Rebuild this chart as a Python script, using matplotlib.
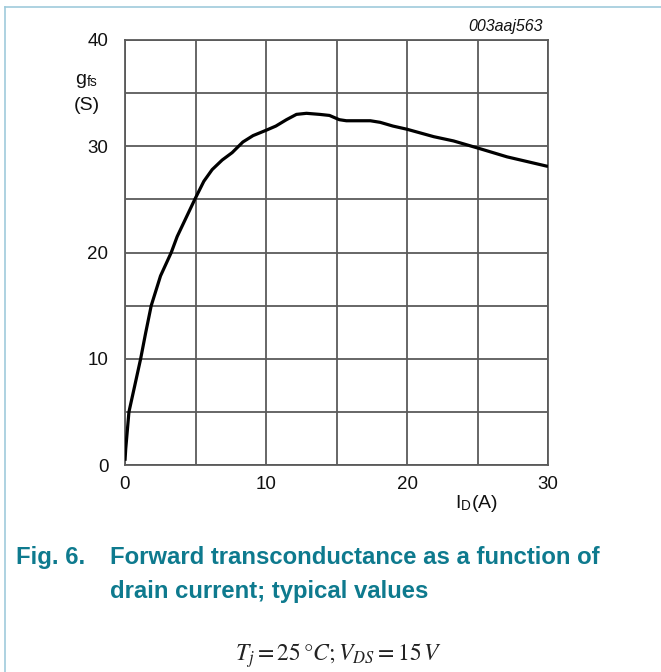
import matplotlib
matplotlib.use('Agg')
import matplotlib.pyplot as plt
from matplotlib.lines import Line2D

plt.rcParams['font.family'] = ['Liberation Sans', 'DejaVu Sans']
plt.rcParams['mathtext.fontset'] = 'stix'

# drain current I_D (A) and forward transconductance g_fs (S)
i_d = [0.0, 0.05, 0.28, 0.68, 1.11, 1.46, 1.86, 2.52, 3.28, 3.7, 4.95, 5.59, 6.18,
       6.89, 7.6, 8.36, 9.08, 10.0, 10.7, 11.45, 12.16, 12.87, 13.8, 14.5, 15.2,
       15.7, 17.4, 18.1, 19.0, 20.0, 21.9, 23.3, 25.1, 27.1, 30.0]
g_fs = [0.4, 1.5, 5.0, 7.4, 10.0, 12.4, 15.0, 17.8, 20.0, 21.5, 25.0, 26.7, 27.8,
        28.7, 29.4, 30.4, 31.0, 31.5, 31.9, 32.5, 33.0, 33.1, 33.0, 32.9, 32.5,
        32.4, 32.4, 32.25, 31.9, 31.6, 30.9, 30.5, 29.8, 29.0, 28.1]

x_ticks = [0, 5, 10, 15, 20, 25, 30]
x_labels = ['0', '', '10', '', '20', '', '30']
y_ticks = [0, 5, 10, 15, 20, 25, 30, 35, 40]
y_labels = ['0', '', '10', '', '20', '', '30', '', '40']

W, H = 661, 672
fig = plt.figure(figsize=(W / 100, H / 100), dpi=100)
ax = fig.add_axes([125 / W, 1 - 465 / H, 423 / W, 425 / H])

ax.plot(i_d, g_fs, color='black', lw=2.3, solid_capstyle='butt', zorder=3)

ax.set_xlim(0, 30)
ax.set_ylim(0, 40)
ax.set_xticks(x_ticks)
ax.set_xticklabels(x_labels)
ax.set_yticks(y_ticks)
ax.set_yticklabels(y_labels)
ax.tick_params(length=0, labelsize=13.5, colors='#111111')
ax.tick_params(axis='x', pad=8)
ax.tick_params(axis='y', pad=12)
ax.grid(True, color='#5a5a5a', lw=1.3)
for s in ax.spines.values():
    s.set_color('#5a5a5a')
    s.set_linewidth(1.3)

grey = '#111111'
fig.text(87 / W, 1 - 81 / H, r'g$_{\mathregular{fs}}$', ha='center', va='center', fontsize=14, color=grey)
fig.text(87 / W, 1 - 105 / H, '(S)', ha='center', va='center', fontsize=14, color=grey)
fig.text(477 / W, 1 - 503 / H, r'I$_{\mathregular{D}}$(A)', ha='center', va='center', fontsize=14, color=grey)
fig.text(543 / W, 1 - 27 / H, '003aaj563', ha='right', va='center', fontsize=11.5, style='italic', color=grey)

teal = '#0e7a8e'
fig.text(16 / W, 1 - 564 / H, 'Fig. 6.', ha='left', va='baseline', fontsize=17.2, fontweight='bold', color=teal)
fig.text(110 / W, 1 - 564 / H, 'Forward transconductance as a function of', ha='left', va='baseline',
         fontsize=17.2, fontweight='bold', color=teal)
fig.text(110 / W, 1 - 598 / H, 'drain current; typical values', ha='left', va='baseline',
         fontsize=17.2, fontweight='bold', color=teal)
fig.text(338 / W, 1 - 661 / H, r'$T_j = \mathrm{25\,°}C ; V_{DS} = \mathrm{15}\,V$', ha='center', va='baseline',
         fontsize=17, color='#222222')

border = '#9fcbdb'
fig.add_artist(Line2D([5 / W, 5 / W], [0, 1 - 7 / H], color=border, lw=1.2))
fig.add_artist(Line2D([5 / W, 1], [1 - 7 / H, 1 - 7 / H], color=border, lw=1.2))

fig.savefig('out.png', dpi=100)
